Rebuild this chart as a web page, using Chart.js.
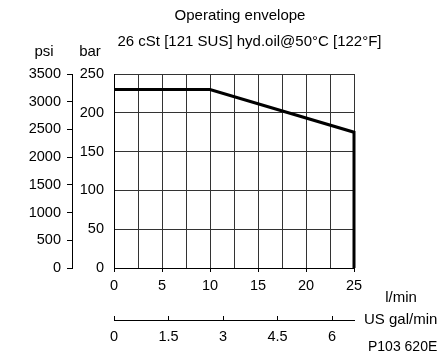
<!DOCTYPE html>
<html>
<head>
<meta charset="utf-8">
<script src="https://cdn.jsdelivr.net/npm/chart.js@4/dist/chart.umd.min.js"></script>
<style>
  html, body { margin: 0; padding: 0; background: #fff; }
  #wrap { width: 444px; height: 359px; }
</style>
</head>
<body>
<div id="wrap"><canvas id="chart" width="444" height="359"></canvas></div>
<script>
// ===== Data =====
const flowLpm = [0, 10, 25, 25];
const pressureBar = [230, 230, 175, 0];
const lpmPerGal = 3.785;
const galTicks = [0, 1.5, 3, 4.5, 6];

const titleText = "Operating envelope";
const subtitleText = "26 cSt [121 SUS] hyd.oil@50°C [122°F]";

const FONT = "'Liberation Sans', Arial, sans-serif";
const GRID = "#333";

Chart.defaults.font.family = FONT;
Chart.defaults.font.size = 14.5;
Chart.defaults.color = "#000";

// ===== Extra text (titles, units, drawing number) =====
const extraText = {
  id: "extraText",
  afterDraw(chart) {
    const { ctx, scales, chartArea } = chart;
    ctx.save();
    ctx.fillStyle = "#000";
    ctx.font = `15px ${FONT}`;
    ctx.textBaseline = "middle";
    ctx.textAlign = "center";
    ctx.fillText(titleText, 240, 16);
    ctx.fillText(subtitleText, 249.5, 42);
    ctx.fillText("psi", scales.psi.right - 28, chartArea.top - 22);
    ctx.fillText("bar", scales.y.right - 24, chartArea.top - 22);
    ctx.fillText("l/min", scales.x.right + 47, scales.x.top + 30);
    ctx.textAlign = "left";
    ctx.fillText("US gal/min", scales.gal.right + 10, scales.gal.top);
    ctx.font = `14px ${FONT}`;
    ctx.fillText("P103 620E", scales.gal.right + 14, scales.gal.top + 27);
    ctx.restore();
  },
};

const ctx = document.getElementById("chart");
new Chart(ctx, {
  type: "scatter",
  data: {
    datasets: [
      {
        data: flowLpm.map((x, i) => ({ x, y: pressureBar[i] })),
        showLine: true,
        borderColor: "#000",
        borderWidth: 3,
        pointRadius: 0,
        clip: 4,
      },
    ],
  },
  options: {
    responsive: false,
    animation: false,
    layout: { padding: { left: 0, right: 90, top: 74, bottom: 9 } },
    plugins: {
      legend: { display: false },
      tooltip: { enabled: false },
    },
    scales: {
      x: {
        type: "linear",
        position: "bottom",
        weight: 0,
        min: 0,
        max: 25,
        ticks: {
          stepSize: 2.5,
          padding: 5,
          maxRotation: 0,
          callback: (v) => (v % 5 === 0 ? String(v) : ""),
        },
        grid: {
          color: GRID,
          tickLength: 4,
          tickColor: (c) => (c.tick && c.tick.value % 5 === 0 ? "#000" : "rgba(0,0,0,0)"),
        },
        border: { color: "#000" },
        afterFit: (s) => { s.height = 52; },
      },
      gal: {
        type: "linear",
        position: "bottom",
        weight: 1,
        min: 0,
        max: 25 / lpmPerGal,
        afterBuildTicks: (s) => { s.ticks = galTicks.map((value) => ({ value })); },
        ticks: { padding: 12, maxRotation: 0, autoSkip: false, callback: (v) => String(v) },
        grid: { drawOnChartArea: false, tickLength: -4, color: "#000" },
        border: { color: "#000" },
        afterFit: (s) => { s.height = 30; },
      },
      y: {
        type: "linear",
        position: "left",
        weight: 0,
        min: 0,
        max: 250,
        ticks: {
          stepSize: 25,
          padding: 10,
          callback: (v) => (v % 50 === 0 ? String(v) : ""),
        },
        grid: { color: GRID, drawTicks: false },
        border: { color: "#000" },
        afterFit: (s) => { s.width = 42; },
      },
      psi: {
        type: "linear",
        position: "left",
        weight: 1,
        min: 0,
        max: 3500,
        ticks: { stepSize: 500, padding: 6, callback: (v) => String(v) },
        grid: { drawOnChartArea: false, tickLength: 5, color: "#000" },
        border: { color: "#000" },
        afterFit: (s) => { s.width = 72; },
      },
    },
  },
  plugins: [extraText],
});
</script>
</body>
</html>
